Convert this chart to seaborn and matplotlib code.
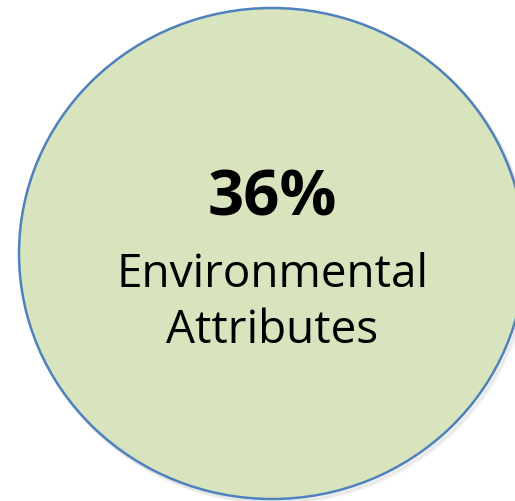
import matplotlib
matplotlib.use("Agg")
import matplotlib.pyplot as plt
from matplotlib.patches import Ellipse
import seaborn as sns

values = [36]
label_lines = ["Environmental", "Attributes"]

sns.set_theme(style="white")
plt.rcParams['font.family'] = ['Open Sans', 'DejaVu Sans']

fig = plt.figure(figsize=(5.15, 5.01), dpi=100)
ax = fig.add_axes([0, 0, 1, 1])
ax.set_xlim(0, 515)
ax.set_ylim(501, 0)
ax.axis("off")

# shadow
for i, a in enumerate([0.05, 0.05, 0.05]):
    ax.add_patch(Ellipse((272 + 1.5 + i, 253.5 + 2 + i), 506, 491, facecolor="none",
                         edgecolor="#555555", lw=2.5, alpha=a, zorder=1))
ax.add_patch(Ellipse((272, 253.5), 506, 491, facecolor="#D7E4BD",
                     edgecolor="#4F81BD", lw=1.8, zorder=2))

ax.text(272.5, 215, f"{values[0]}%", ha="center", va="baseline", fontsize=45.5,
        fontweight="bold", color="black", zorder=3)
for y, line in zip([287, 343], label_lines):
    ax.text(272.5, y, line, ha="center", va="baseline", fontsize=33,
            color="black", zorder=3)

fig.savefig("out.png", dpi=100)
